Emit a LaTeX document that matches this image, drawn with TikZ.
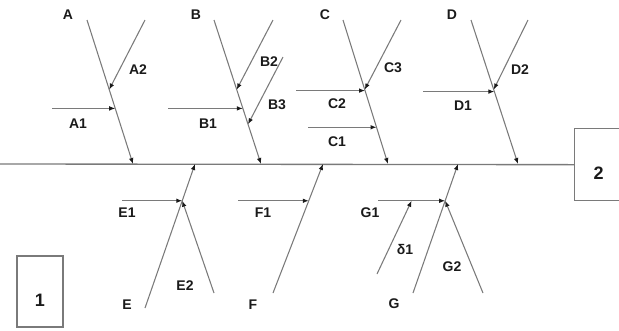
\documentclass[tikz,border=0pt]{standalone}
\usepackage{fontspec}
\setmainfont{Liberation Sans}
\usetikzlibrary{arrows.meta, calc}
\definecolor{cbone}{HTML}{7A7A7A}
\definecolor{cink}{HTML}{1A1A1A}
\tikzset{
  every picture/.style={line width=0.8pt},
  bone/.style={draw=cbone, -{Latex[length=4.5pt, width=3.5pt, color=cink]}},
  spine/.style={draw=cbone, line width=1pt},
  lbl/.style={font=\fontsize{10.5}{12}\selectfont\bfseries, text=cink, inner sep=0pt},
  box/.style={draw=cbone, line width=1pt, font=\fontsize{13.5}{15}\selectfont\bfseries, text=cink, inner sep=0pt},
}
\newcommand{\lowtxt}[1]{\raisebox{-11pt}[0pt][0pt]{#1}}

\begin{document}
\begin{tikzpicture}[x=0.75pt, y=-0.75pt]
  \clip (0,0) rectangle (619,330);
  % boxes
  \node[box, minimum width=34.5pt, minimum height=53.25pt] (box1) at (40,291.5) {\lowtxt{1}};
  \node[box, minimum width=36pt, minimum height=54pt, anchor=north west] (box2) at (574,128) {\lowtxt{2}};
  % spine
  \coordinate (sp0) at (0,164);
  \draw[spine] (sp0) -- (box2.west);

  % upper bones
  \coordinate (aTop) at (87,20);   \coordinate (aEnd) at (133,164);
  \coordinate (bTop) at (214,20);  \coordinate (bEnd) at (261,164);
  \coordinate (cTop) at (343,20);  \coordinate (cEnd) at (388,164);
  \coordinate (dTop) at (471,20);  \coordinate (dEnd) at (518,164);
  \foreach \b in {a,b,c,d} {\draw[bone] (\b Top) -- (\b End);}

  % lower bones
  \coordinate (eTail) at (145,308); \coordinate (eEnd) at (195,164);
  \coordinate (fTail) at (273,293); \coordinate (fEnd) at (323,164);
  \coordinate (gTail) at (413,293); \coordinate (gEnd) at (458,164);
  \foreach \b in {e,f,g} {\draw[bone] (\b Tail) -- (\b End);}

  % points where the small causes meet the bones
  \coordinate (a2) at ($(aTop)!0.483!(aEnd)$);
  \coordinate (a1) at ($(aTop)!0.614!(aEnd)$);
  \coordinate (b2) at ($(bTop)!0.483!(bEnd)$);
  \coordinate (b1) at ($(bTop)!0.614!(bEnd)$);
  \coordinate (b3) at ($(bTop)!0.724!(bEnd)$);
  \coordinate (c3) at ($(cTop)!0.483!(cEnd)$);
  \coordinate (c2) at ($(cTop)!0.49!(cEnd)$);
  \coordinate (c1) at ($(cTop)!0.745!(cEnd)$);
  \coordinate (d2) at ($(dTop)!0.483!(dEnd)$);
  \coordinate (d1) at ($(dTop)!0.497!(dEnd)$);
  \coordinate (e0) at ($(eTail)!0.745!(eEnd)$);
  \coordinate (f0) at ($(fTail)!0.715!(fEnd)$);
  \coordinate (g0) at ($(gTail)!0.715!(gEnd)$);

  % small causes
  \coordinate (a2s) at (145,20);   \draw[bone] (a2s) -- (a2);
  \coordinate (a1s) at (52,109);   \draw[bone] (a1s |- a1) -- (a1);
  \coordinate (b2s) at (273,20);   \draw[bone] (b2s) -- (b2);
  \coordinate (b3s) at (283,57);   \draw[bone] (b3s) -- (b3);
  \coordinate (b1s) at (168,109);  \draw[bone] (b1s |- b1) -- (b1);
  \coordinate (c3s) at (401,20);   \draw[bone] (c3s) -- (c3);
  \coordinate (c2s) at (296,91);   \draw[bone] (c2s |- c2) -- (c2);
  \coordinate (c1s) at (308,128);  \draw[bone] (c1s |- c1) -- (c1);
  \coordinate (d2s) at (528,20);   \draw[bone] (d2s) -- (d2);
  \coordinate (d1s) at (423,92);   \draw[bone] (d1s |- d1) -- (d1);
  \coordinate (e1s) at (122,201);  \draw[bone] (e1s |- e0) -- (e0);
  \coordinate (e2s) at (214,293);  \draw[bone] (e2s) -- (e0);
  \coordinate (f1s) at (238,201);  \draw[bone] (f1s |- f0) -- (f0);
  \coordinate (g1s) at (378,201);  \draw[bone] (g1s |- g0) -- (g0);
  \coordinate (g2s) at (483,293);  \draw[bone] (g2s) -- (g0);
  \coordinate (ds) at (377,274);
  \coordinate (dsEnd) at ($(g1s |- g0)!0.5!(g0)$);
  \draw[bone] (ds) -- (dsEnd);

  % labels
  \node[lbl] (lA) at (68,15) {A};
  \node[lbl] (lB) at (196,15) {B};
  \node[lbl] (lC) at (325,15) {C};
  \node[lbl] (lD) at (452,15) {D};
  \node[lbl] (lA2) at (138,70) {A2};
  \node[lbl] (lA1) at (78,124) {A1};
  \node[lbl] (lB2) at (269,62) {B2};
  \node[lbl] (lB3) at (277,105) {B3};
  \node[lbl] (lB1) at (208,124) {B1};
  \node[lbl] (lC3) at (393,68) {C3};
  \node[lbl] (lC2) at (337,104) {C2};
  \node[lbl] (lC1) at (337,142) {C1};
  \node[lbl] (lD2) at (520,70) {D2};
  \node[lbl] (lD1) at (463,106) {D1};
  \node[lbl] (lE1) at (127,213) {E1};
  \node[lbl] (lE2) at (185,286) {E2};
  \node[lbl] (lE) at (127,305) {E};
  \node[lbl] (lF1) at (263,213) {F1};
  \node[lbl] (lF) at (253,305) {F};
  \node[lbl] (lG1) at (370,213) {G1};
  \node[lbl] (lds) at (405,249) {δ1};
  \node[lbl] (lG2) at (452,267) {G2};
  \node[lbl] (lG) at (394,304) {G};
\end{tikzpicture}
\end{document}
